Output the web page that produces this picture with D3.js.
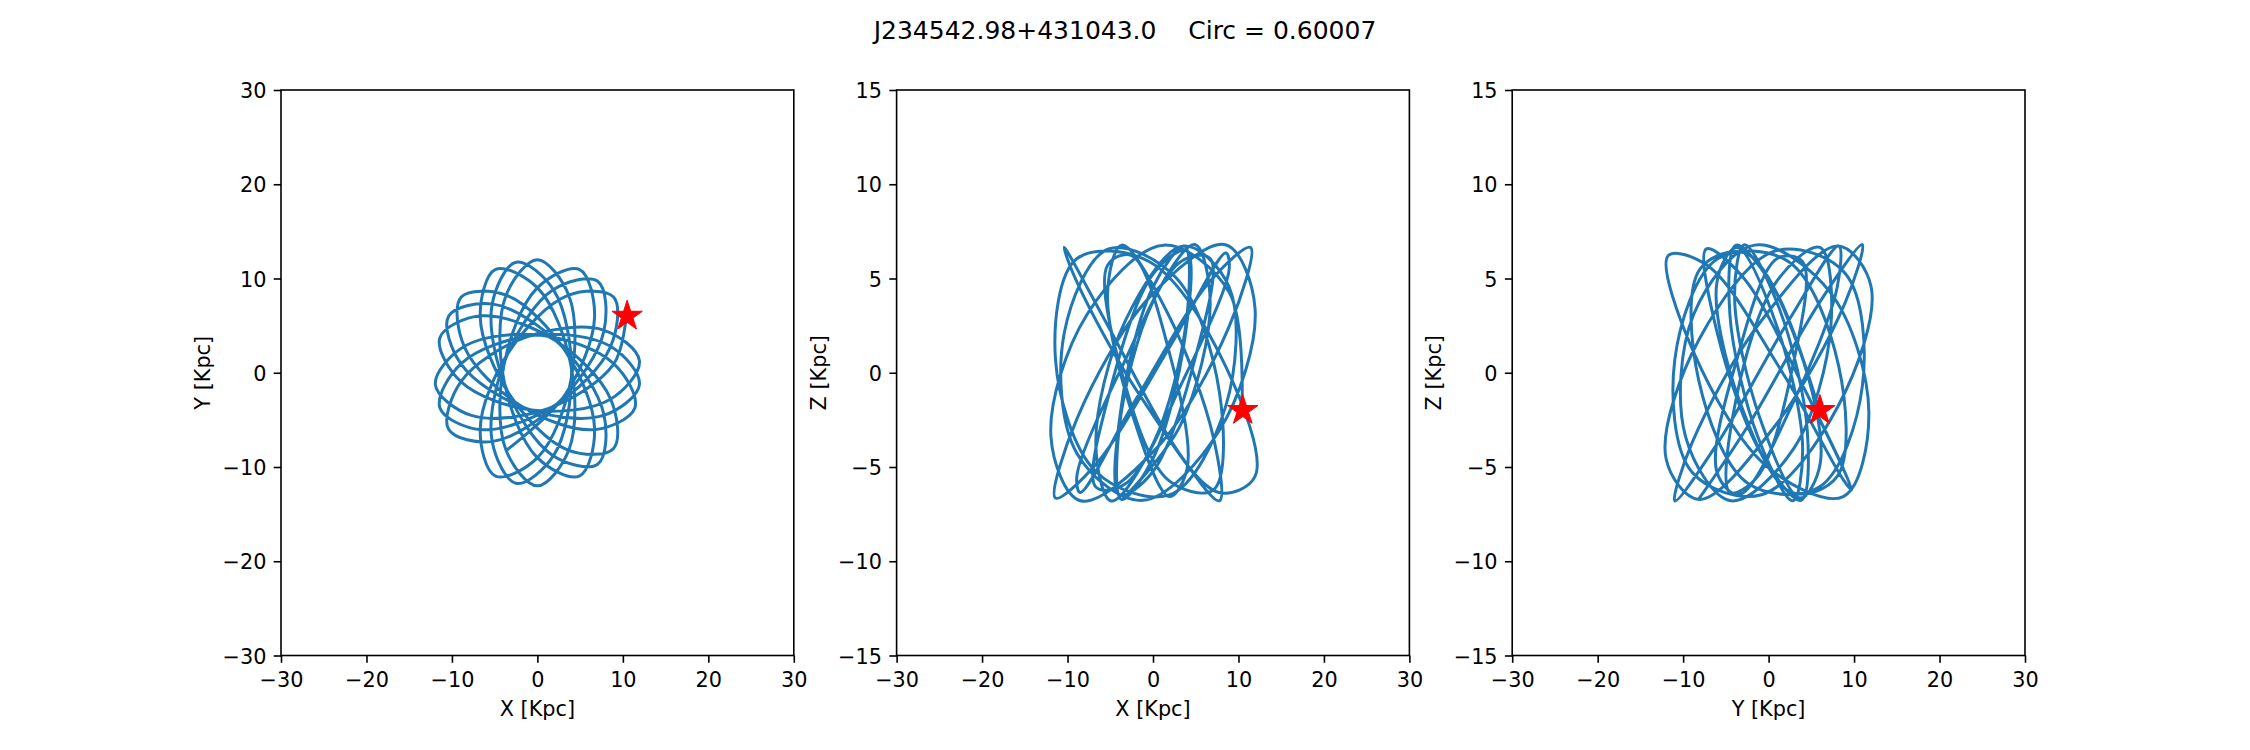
<!DOCTYPE html>
<html>
<head>
<meta charset="utf-8">
<script src="https://cdn.jsdelivr.net/npm/d3@7"></script>
<style>
  body { margin: 0; background: #fff; }
  text { font-family: "DejaVu Sans", sans-serif; fill: #000; }
</style>
</head>
<body>
<svg id="chart" width="2250" height="750"></svg>
<script>
// orbit of the star (Kpc)
var orbitX = [-3.58, 3.23, 6.69, 4.89, -0.07, -3.91, -3.70, 0.00, 3.70, 3.91,
  0.07, -4.89, -6.69, -3.23, 3.58, 8.91, 8.52, 2.00, -6.60, -11.41,
  -8.89, -0.42, 8.49, 11.94, 7.72, -1.23, -8.90, -10.39, -5.20, 2.67,
  7.78, 7.05, 1.79, -3.65, -5.31, -2.49, 1.92, 4.00, 1.92, -2.49,
  -5.31, -3.65, 1.79, 7.05, 7.78, 2.67, -5.20, -10.39, -8.90, -1.23,
  7.72, 11.94, 8.49, -0.42, -8.89, -11.41, -6.60, 2.00, 8.52, 8.91,
  3.58, -3.23, -6.69, -4.89, 0.07, 3.91, 3.70, 0.00, -3.70, -3.91,
  -0.07, 4.89, 6.69, 3.23, -3.58, -8.91, -8.52, -2.00, 6.60, 11.41,
  8.89, 0.42, -8.49, -11.94, -7.72, 1.23, 8.90, 10.39]
var orbitY = [-8.20, -2.35, 5.93, 10.97, 8.95, 0.83, -8.14, -12.00, -8.14, 0.83,
  8.95, 10.97, 5.93, -2.35, -8.20, -8.03, -2.70, 3.47, 6.04, 3.71,
  -1.00, -3.98, -2.83, 1.26, 4.53, 3.81, -0.88, -6.00, -7.28, -2.97,
  4.42, 9.71, 8.77, 1.63, -7.19, -11.73, -8.74, 0.00, 8.74, 11.73,
  7.19, -1.63, -8.77, -9.71, -4.42, 2.97, 7.28, 6.00, 0.88, -3.81,
  -4.53, -1.26, 2.83, 3.98, 1.00, -3.71, -6.04, -3.47, 2.70, 8.03,
  8.20, 2.35, -5.93, -10.97, -8.95, -0.83, 8.14, 12.00, 8.14, -0.83,
  -8.95, -10.97, -5.93, 2.35, 8.20, 8.03, 2.70, -3.47, -6.04, -3.71,
  1.00, 3.98, 2.83, -1.26, -4.53, -3.81, 0.88, 6.00]
var orbitZ = [-6.72, -2.77, 3.71, 6.80, 3.71, -2.77, -6.72, -4.55, 1.76, 6.47,
  5.28, -0.71, -6.06, -5.89, -0.35, 5.50, 6.35, 1.41, -4.81, -6.65,
  -2.43, 4.00, 6.79, 3.40, -3.09, -6.77, -4.28, 2.10, 6.57, 5.05,
  -1.06, -6.22, -5.70, 0.00, 5.70, 6.22, 1.06, -5.05, -6.57, -2.10,
  4.28, 6.77, 3.09, -3.40, -6.79, -4.00, 2.43, 6.65, 4.81, -1.41,
  -6.35, -5.50, 0.35, 5.89, 6.06, 0.71, -5.28, -6.47, -1.76, 4.55,
  6.72, 2.77, -3.71, -6.80, -3.71, 2.77, 6.72, 4.55, -1.76, -6.47,
  -5.28, 0.71, 6.06, 5.89, 0.35, -5.50, -6.35, -1.41, 4.81, 6.65,
  2.43, -4.00, -6.79, -3.40, 3.09, 6.77, 4.28, -2.10]

// present position (red star)
var nowX = 10.5, nowY = 6.0, nowZ = -2.0

var titleText = "J234542.98+431043.0    Circ = 0.60007"
var xyTicks = [-30, -20, -10, 0, 10, 20, 30]
var zTicks = [-15, -10, -5, 0, 5, 10, 15]

var svg = d3.select("#chart")
svg.append("rect").attr("width", 2250).attr("height", 750).attr("fill", "#fff")

svg.append("text")
   .attr("x", 1125).attr("y", 39)
   .attr("text-anchor", "middle")
   .style("font-size", "25px")
   .style("white-space", "pre")
   .text(titleText)

var plotTop = 90, plotBottom = 655.5, w = 512.8
var panels = [
  {left: 281,    h: orbitX, v: orbitY, hn: nowX, vn: nowY, hl: "X [Kpc]", vl: "Y [Kpc]", vd: [-30, 30], vt: xyTicks},
  {left: 896.6,  h: orbitX, v: orbitZ, hn: nowX, vn: nowZ, hl: "X [Kpc]", vl: "Z [Kpc]", vd: [-15, 15], vt: zTicks},
  {left: 1512.2, h: orbitY, v: orbitZ, hn: nowY, vn: nowZ, hl: "Y [Kpc]", vl: "Z [Kpc]", vd: [-15, 15], vt: zTicks}
]

panels.forEach(function(p) {
  var x = d3.scaleLinear().domain([-30, 30]).range([p.left, p.left + w])
  var y = d3.scaleLinear().domain(p.vd).range([plotBottom, plotTop])
  var g = svg.append("g")

  var line = d3.line()
               .x(function(d) { return x(d[0]) })
               .y(function(d) { return y(d[1]) })
               .curve(d3.curveCatmullRom.alpha(0.5))
  g.append("path")
   .datum(p.h.map(function(d, i) { return [d, p.v[i]] }))
   .attr("d", line)
   .attr("fill", "none")
   .attr("stroke", "#1f77b4")
   .attr("stroke-width", 3)
   .attr("stroke-linejoin", "round")

  g.append("path")
   .attr("d", d3.symbol(d3.symbolStar, 285)())
   .attr("transform", "translate(" + x(p.hn) + "," + y(p.vn) + ")")
   .attr("fill", "red")
   .attr("stroke", "red")
   .attr("stroke-width", 1)

  var fmt = d3.format("d")
  var xAxis = g.append("g")
               .attr("transform", "translate(0," + plotBottom + ")")
               .call(d3.axisBottom(x).tickValues(xyTicks).tickFormat(fmt).tickSize(7.3).tickPadding(7.5))
  var yAxis = g.append("g")
               .attr("transform", "translate(" + p.left + ",0)")
               .call(d3.axisLeft(y).tickValues(p.vt).tickFormat(fmt).tickSize(7.3).tickPadding(7.3))
  ;[xAxis, yAxis].forEach(function(a) {
    a.select(".domain").remove()
    a.selectAll(".tick line").attr("stroke", "#000").attr("stroke-width", 1.6)
    a.selectAll(".tick text").style("font-size", "20.8px").style("font-family", "DejaVu Sans").attr("fill", "#000")
  })
  xAxis.selectAll(".tick text").attr("dy", null).attr("y", 31.2)
  yAxis.selectAll(".tick text").attr("dy", "0.36em")

  g.append("rect")
   .attr("x", p.left).attr("y", plotTop)
   .attr("width", w).attr("height", plotBottom - plotTop)
   .attr("fill", "none").attr("stroke", "#000").attr("stroke-width", 1.6)

  g.append("text")
   .attr("x", p.left + w / 2).attr("y", 716)
   .attr("text-anchor", "middle")
   .style("font-size", "20.8px")
   .text(p.hl)
  g.append("text")
   .attr("transform", "translate(" + (p.left - 71) + "," + ((plotTop + plotBottom) / 2) + ") rotate(-90)")
   .attr("text-anchor", "middle")
   .style("font-size", "20.8px")
   .text(p.vl)
})
</script>
</body>
</html>
